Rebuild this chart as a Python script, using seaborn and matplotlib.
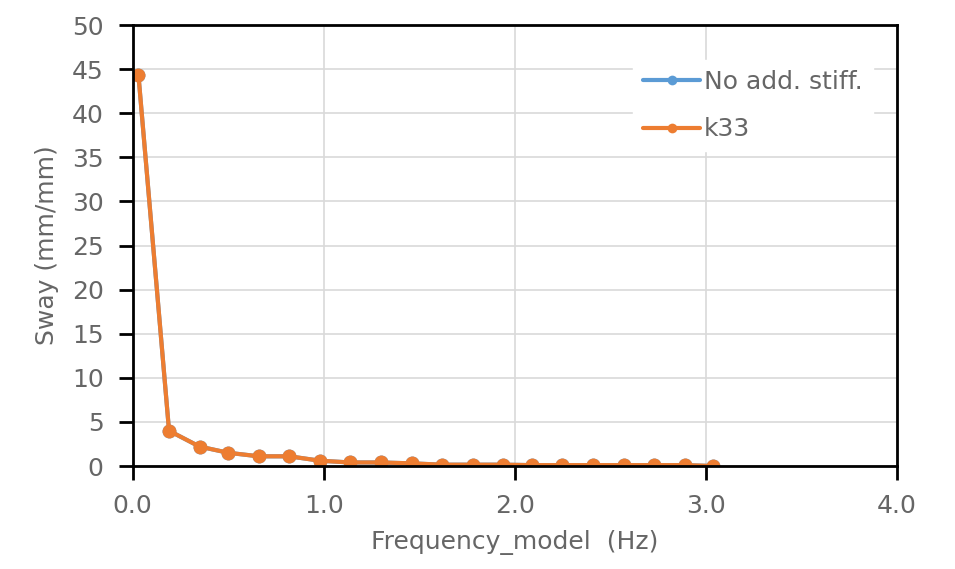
import matplotlib
matplotlib.use("Agg")
import matplotlib.pyplot as plt
import pandas as pd
import seaborn as sns

# Data
freq = [0.03, 0.19, 0.35, 0.50, 0.66, 0.82, 0.98, 1.14, 1.30, 1.46,
        1.62, 1.78, 1.94, 2.09, 2.25, 2.41, 2.57, 2.73, 2.89, 3.04]
sway_no_add = [44.3, 4.0, 2.2, 1.5, 1.1, 1.1, 0.6, 0.4, 0.4, 0.3,
               0.15, 0.15, 0.15, 0.1, 0.1, 0.1, 0.1, 0.1, 0.1, 0.0]
sway_k33 = [44.3, 4.0, 2.2, 1.5, 1.1, 1.1, 0.6, 0.4, 0.4, 0.3,
            0.15, 0.15, 0.15, 0.1, 0.1, 0.1, 0.1, 0.1, 0.1, 0.0]
series_names = ["No add. stiff.", "k33"]
colors = ["#5B9BD5", "#ED7D31"]

df = pd.concat([
    pd.DataFrame({"freq": freq, "sway": sway_no_add, "case": series_names[0]}),
    pd.DataFrame({"freq": freq, "sway": sway_k33, "case": series_names[1]}),
])

sns.set_style("white")
plt.rcParams["font.family"] = ["DejaVu Sans"]
text_col = "#666666"
fs = 18

fig = plt.figure(figsize=(9.55, 5.69), dpi=100)
ax = fig.add_axes([0.139, 0.181, 0.8, 0.775])

sns.lineplot(data=df, x="freq", y="sway", hue="case", palette=colors,
             marker="o", markersize=10, markeredgewidth=0, linewidth=3,
             ax=ax, sort=False)

ax.set_xlim(0, 4)
ax.set_ylim(0, 50)
ax.set_xticks([0, 1, 2, 3, 4])
ax.set_xticklabels(["0.0", "1.0", "2.0", "3.0", "4.0"])
ax.set_yticks(range(0, 51, 5))
ax.grid(True, color="#d9d9d9", linewidth=1.2)
ax.set_axisbelow(True)

for side in ["left", "right", "top", "bottom"]:
    ax.spines[side].set_visible(True)
    ax.spines[side].set_color("black")
    ax.spines[side].set_linewidth(2)

ax.tick_params(axis="both", direction="out", length=10, width=2, color="black",
               labelsize=fs, labelcolor=text_col, left=True, bottom=True)
ax.tick_params(axis="y", pad=11)
ax.tick_params(axis="x", pad=10)
ax.set_xlabel("Frequency_model  (Hz)", fontsize=fs, color=text_col, labelpad=9)
ax.set_ylabel("Sway (mm/mm)", fontsize=fs, color=text_col, labelpad=9)

leg = ax.legend(loc="upper right", bbox_to_anchor=(0.985, 0.95), fontsize=fs,
                frameon=True, facecolor="white", edgecolor="white",
                framealpha=1, labelspacing=0.95, handlelength=2.3,
                handletextpad=0.15, borderpad=0.4)
for t in leg.get_texts():
    t.set_color(text_col)
for h in leg.legend_handles:
    h.set_markersize(7)

fig.savefig("out.png", dpi=100)
